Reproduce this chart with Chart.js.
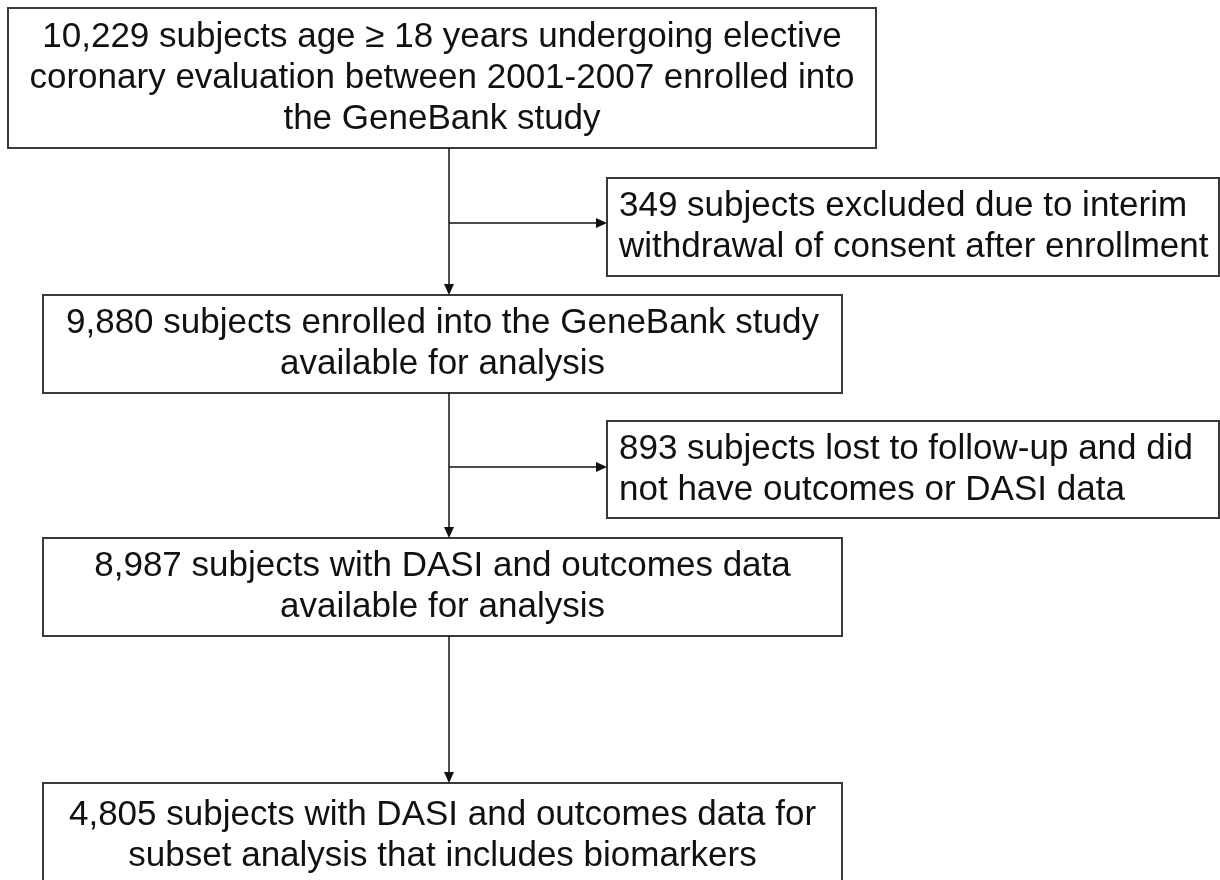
<!DOCTYPE html>
<html>
<head>
<meta charset="utf-8">
<script src="https://cdn.jsdelivr.net/npm/chart.js@4"></script>
<style>
  html, body { margin: 0; padding: 0; background: #fff; }
  #wrap { width: 1220px; height: 880px; position: relative; }
</style>
</head>
<body>
<div id="wrap"><canvas id="flow"></canvas></div>
<script>
// subject counts at each step of the flow
const stepCounts = [10229, 349, 9880, 893, 8987, 4805];

// text of each box, one entry per line
const stepLines = [
    ["10,229 subjects age \u2265 18 years undergoing elective",
     "coronary evaluation between 2001-2007 enrolled into",
     "the GeneBank study"],
    ["349 subjects excluded due to interim",
     "withdrawal of consent after enrollment"],
    ["9,880 subjects enrolled into the GeneBank study",
     "available for analysis"],
    ["893 subjects lost to follow-up and did",
     "not have outcomes or DASI data"],
    ["8,987 subjects with DASI and outcomes data",
     "available for analysis"],
    ["4,805 subjects with DASI and outcomes data for",
     "subset analysis that includes biomarkers"]
];

// which boxes are side exclusions (text left aligned)
const stepSide = [false, true, false, true, false, false];

// box layout in axis units (x 0..1220, y 0..880 top-down)
const boxLeft   = [8,   607,  43, 607,  43,  43];
const boxRight  = [876, 1219, 842, 1219, 842, 842];
const boxTop    = [8,   178, 295, 421, 538, 783];
const boxBottom = [148, 276, 393, 518, 636, 895];

const trunkX = 449;
const branchY = [223, 467];

const flowPlugin = {
    id: "flowBoxes",
    afterDraw(chart) {
        const ctx = chart.ctx;
        const xs = chart.scales.x, ys = chart.scales.y;
        const px = v => xs.getPixelForValue(v);
        const py = v => ys.getPixelForValue(v);

        function arrow(x1, y1, x2, y2) {
            ctx.save();
            ctx.strokeStyle = "#111";
            ctx.fillStyle = "#111";
            ctx.lineWidth = 1.5;
            const ang = Math.atan2(y2 - y1, x2 - x1);
            const len = 11, half = 5;
            ctx.beginPath();
            ctx.moveTo(x1, y1);
            ctx.lineTo(x2 - Math.cos(ang) * len, y2 - Math.sin(ang) * len);
            ctx.stroke();
            ctx.beginPath();
            ctx.moveTo(x2, y2);
            ctx.lineTo(x2 - Math.cos(ang) * len - Math.sin(ang) * half, y2 - Math.sin(ang) * len + Math.cos(ang) * half);
            ctx.lineTo(x2 - Math.cos(ang) * len + Math.sin(ang) * half, y2 - Math.sin(ang) * len - Math.cos(ang) * half);
            ctx.closePath();
            ctx.fill();
            ctx.restore();
        }

        // boxes + text
        ctx.save();
        ctx.font = "35px 'Liberation Sans', Arimo, Arial, sans-serif";
        ctx.textBaseline = "middle";
        stepLines.forEach((lines, i) => {
            const l = px(boxLeft[i]), r = px(boxRight[i]);
            const t = py(boxTop[i]), b = py(boxBottom[i]);
            ctx.strokeStyle = "#3a3a3a";
            ctx.lineWidth = 2;
            ctx.strokeRect(l, t, r - l, b - t);

            ctx.fillStyle = "#111";
            const gap = 41;
            // last box runs off the bottom edge, centre its text on the visible part
            const midY = i === 5 ? py(836) : (t + b) / 2;
            const y0 = midY - gap * (lines.length - 1) / 2;
            lines.forEach((ln, k) => {
                if (stepSide[i]) {
                    ctx.textAlign = "left";
                    ctx.fillText(ln, l + 12, y0 + k * gap);
                } else {
                    ctx.textAlign = "center";
                    ctx.fillText(ln, (l + r) / 2, y0 + k * gap);
                }
            });
        });
        ctx.restore();

        // main trunk arrows
        const mains = [0, 2, 4, 5];
        for (let k = 0; k < mains.length - 1; k++) {
            arrow(px(trunkX), py(boxBottom[mains[k]]), px(trunkX), py(boxTop[mains[k + 1]]));
        }
        // exclusion branches
        arrow(px(trunkX), py(branchY[0]), px(boxLeft[1]), py(branchY[0]));
        arrow(px(trunkX), py(branchY[1]), px(boxLeft[3]), py(branchY[1]));
    }
};

new Chart(document.getElementById("flow").getContext("2d"), {
    type: "scatter",
    data: {
        datasets: [{
            label: "subjects",
            data: stepCounts.map((c, i) => ({ x: (boxLeft[i] + boxRight[i]) / 2, y: (boxTop[i] + boxBottom[i]) / 2, n: c })),
            pointRadius: 0,
            pointHoverRadius: 0
        }]
    },
    options: {
        responsive: true,
        maintainAspectRatio: false,
        animation: false,
        layout: { padding: 0 },
        plugins: { legend: { display: false }, tooltip: { enabled: false } },
        scales: {
            x: { type: "linear", min: 0, max: 1220, display: false },
            y: { type: "linear", min: 0, max: 880, reverse: true, display: false }
        }
    },
    plugins: [flowPlugin]
});
</script>
</body>
</html>
